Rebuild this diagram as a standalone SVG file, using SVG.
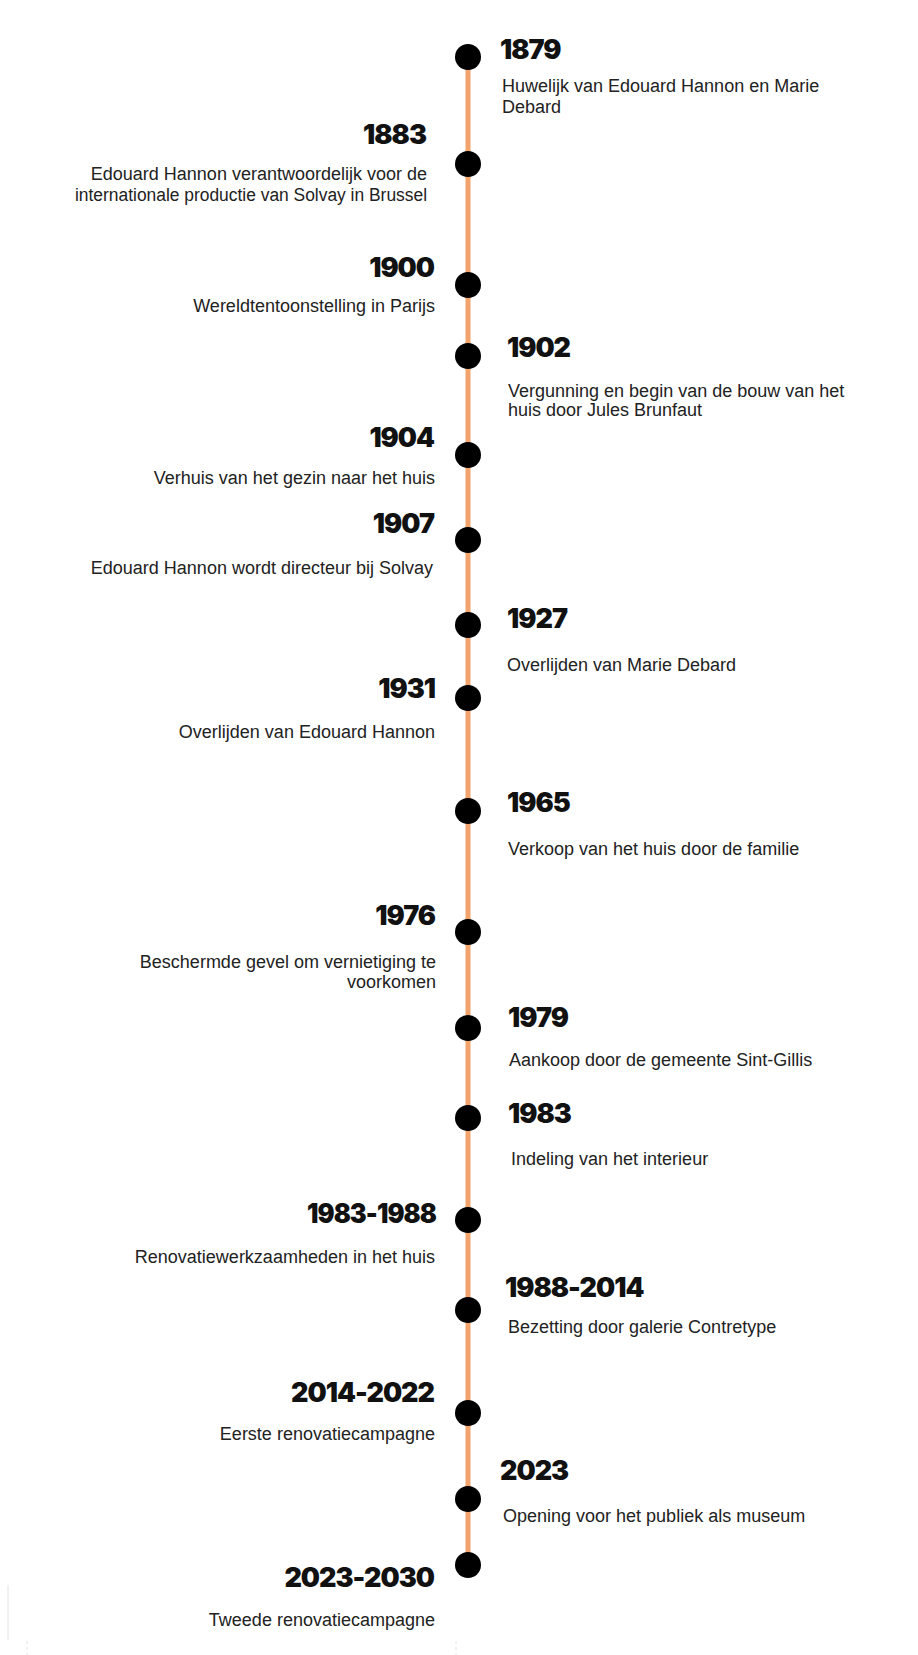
<svg xmlns="http://www.w3.org/2000/svg" width="918" height="1655" viewBox="0 0 918 1655">
<style>
.yr{font-family:Inter,"Roboto","Liberation Sans",sans-serif;font-weight:900;font-size:27px;fill:#111;letter-spacing:-1px;font-variant-numeric:proportional-nums}
.ds{font-family:"Liberation Sans",Arial,sans-serif;font-size:18px;fill:#222}
.l{text-anchor:end}
.dot{fill:#000}
.ln{stroke:#F2A26B;stroke-width:5;fill:none}
.fr{stroke:#e4e4e4;stroke-width:1;fill:none}
</style>
<rect width="918" height="1655" fill="#fff"/>
<g id="frame">
<line class="fr" x1="8" y1="1585" x2="8" y2="1640"/>
<line class="fr" x1="27" y1="1641" x2="27" y2="1655" stroke-dasharray="3 3"/>
<line class="fr" x1="456" y1="1641" x2="456" y2="1655" stroke-dasharray="3 3"/>
</g>
<g id="connectors">
<line class="ln" x1="468" y1="57" x2="468" y2="1565"/>
</g>
<g id="n1879"><circle class="dot" cx="468" cy="57" r="13"/><text class="yr" x="500" y="59">1879</text><text class="ds" x="502" y="92">Huwelijk van Edouard Hannon en Marie</text><text class="ds" x="502" y="113">Debard</text></g>
<g id="n1883"><circle class="dot" cx="468" cy="164" r="13"/><text class="yr l" x="426" y="144">1883</text><text class="ds l" x="427" y="180">Edouard Hannon verantwoordelijk voor de</text><text class="ds l" x="427" y="201" textLength="352" lengthAdjust="spacingAndGlyphs">internationale productie van Solvay in Brussel</text></g>
<g id="n1900"><circle class="dot" cx="468" cy="285" r="13"/><text class="yr l" x="434" y="277">1900</text><text class="ds l" x="435" y="312">Wereldtentoonstelling in Parijs</text></g>
<g id="n1902"><circle class="dot" cx="468" cy="356" r="13"/><text class="yr" x="507" y="357">1902</text><text class="ds" x="508" y="397">Vergunning en begin van de bouw van het</text><text class="ds" x="508" y="416">huis door Jules Brunfaut</text></g>
<g id="n1904"><circle class="dot" cx="468" cy="455" r="13"/><text class="yr l" x="434" y="447">1904</text><text class="ds l" x="435" y="484">Verhuis van het gezin naar het huis</text></g>
<g id="n1907"><circle class="dot" cx="468" cy="540" r="13"/><text class="yr l" x="434" y="533">1907</text><text class="ds l" x="433" y="574">Edouard Hannon wordt directeur bij Solvay</text></g>
<g id="n1927"><circle class="dot" cx="468" cy="625" r="13"/><text class="yr" x="507" y="628">1927</text><text class="ds" x="507" y="671">Overlijden van Marie Debard</text></g>
<g id="n1931"><circle class="dot" cx="468" cy="698" r="13"/><text class="yr l" x="435" y="698">1931</text><text class="ds l" x="435" y="738">Overlijden van Edouard Hannon</text></g>
<g id="n1965"><circle class="dot" cx="468" cy="811" r="13"/><text class="yr" x="507" y="812">1965</text><text class="ds" x="508" y="855">Verkoop van het huis door de familie</text></g>
<g id="n1976"><circle class="dot" cx="468" cy="932" r="13"/><text class="yr l" x="435" y="925">1976</text><text class="ds l" x="436" y="968">Beschermde gevel om vernietiging te</text><text class="ds l" x="436" y="988">voorkomen</text></g>
<g id="n1979"><circle class="dot" cx="468" cy="1028" r="13"/><text class="yr" x="508" y="1027">1979</text><text class="ds" x="509" y="1066">Aankoop door de gemeente Sint-Gillis</text></g>
<g id="n1983"><circle class="dot" cx="468" cy="1118" r="13"/><text class="yr" x="508" y="1123">1983</text><text class="ds" x="511" y="1165">Indeling van het interieur</text></g>
<g id="n1983-1988"><circle class="dot" cx="468" cy="1220" r="13"/><text class="yr l" x="436" y="1223" textLength="129" lengthAdjust="spacingAndGlyphs">1983-1988</text><text class="ds l" x="435" y="1263">Renovatiewerkzaamheden in het huis</text></g>
<g id="n1988-2014"><circle class="dot" cx="468" cy="1310" r="13"/><text class="yr" x="505" y="1297">1988-2014</text><text class="ds" x="508" y="1333">Bezetting door galerie Contretype</text></g>
<g id="n2014-2022"><circle class="dot" cx="468" cy="1413" r="13"/><text class="yr l" x="434" y="1402">2014-2022</text><text class="ds l" x="435" y="1440">Eerste renovatiecampagne</text></g>
<g id="n2023"><circle class="dot" cx="468" cy="1499" r="13"/><text class="yr" x="500" y="1480">2023</text><text class="ds" x="503" y="1522">Opening voor het publiek als museum</text></g>
<g id="n2023-2030"><circle class="dot" cx="468" cy="1565" r="13"/><text class="yr l" x="434" y="1587">2023-2030</text><text class="ds l" x="435" y="1626">Tweede renovatiecampagne</text></g>
</svg>
